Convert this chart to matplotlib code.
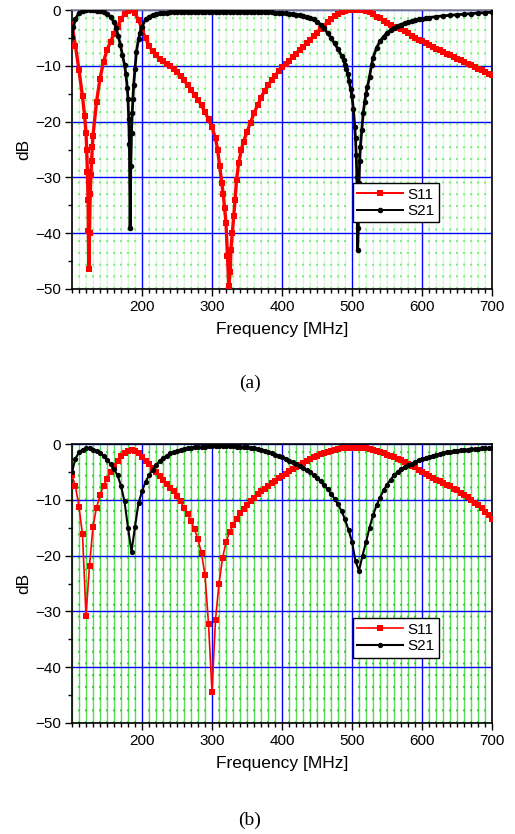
import matplotlib
matplotlib.use("Agg")
import matplotlib.pyplot as plt
from matplotlib.ticker import MultipleLocator, FixedLocator

plt.rcParams['font.family'] = ['Liberation Sans', 'DejaVu Sans']

# ---------------- panel (a) data ----------------
freq_a_s11 = [100, 105, 110, 115, 118, 120, 121, 122, 123, 123.5, 124, 125, 126, 127, 128, 129, 130,
              135, 140, 145, 150, 155, 160, 165, 170, 175, 180, 185, 190, 195,
              200, 205, 210, 215, 220, 225, 230, 235, 240, 245, 250, 255, 260, 265, 270, 275,
              280, 285, 290, 295, 300, 305, 308, 311, 314, 316, 318, 320, 322, 324, 326, 327,
              329, 331, 333, 335, 338, 342, 345, 350, 355, 360, 365, 370, 375, 380, 385, 390, 395,
              400, 405, 410, 415, 420, 425, 430, 435, 440, 445, 450, 455, 460, 465, 470, 475,
              480, 485, 490, 495, 500, 505, 510, 515, 520, 525, 530, 535, 540, 545, 550, 555,
              560, 565, 570, 575, 580, 585, 590, 595, 600, 605, 610, 615, 620, 625, 630, 635,
              640, 645, 650, 655, 660, 665, 670, 675, 680, 685, 690, 695, 700]
s11_a = [-2.7, -6.5, -10.8, -15.5, -19.0, -22.0, -25.0, -29.0, -34.0, -39.6, -46.5, -40.0, -33.0, -29.5, -27.0, -24.5, -22.5,
         -16.5, -12.3, -9.3, -7.2, -5.7, -4.3, -3.0, -1.7, -0.7, -0.15, 0.0, -0.6, -1.8,
         -3.4, -5.1, -6.4, -7.4, -8.1, -8.7, -9.2, -9.7, -10.1, -10.6, -11.2, -11.9, -12.6, -13.4, -14.3, -15.2,
         -16.1, -17.1, -18.3, -19.6, -21.0, -23.0, -25.0, -28.0, -31.0, -33.0, -35.5, -38.2, -44.0, -49.5, -47.0, -43.0,
         -40.0, -37.0, -34.0, -30.5, -27.5, -25.0, -23.6, -21.8, -20.2, -18.5, -17.1, -15.7, -14.5, -13.5, -12.6, -11.8, -11.0,
         -10.3, -9.7, -9.1, -8.4, -7.8, -7.2, -6.6, -6.0, -5.3, -4.7, -4.1, -3.4, -2.8, -2.2, -1.6, -1.1,
         -0.7, -0.4, -0.2, -0.05, 0.0, 0.0, 0.0, 0.0, -0.1, -0.4, -0.8, -1.2, -1.5, -1.9, -2.3, -2.7,
         -3.0, -3.2, -3.4, -3.8, -4.2, -4.6, -5.0, -5.3, -5.6, -5.9, -6.3, -6.6, -6.9, -7.2, -7.5, -7.8,
         -8.1, -8.4, -8.7, -9.0, -9.3, -9.6, -9.9, -10.2, -10.5, -10.8, -11.1, -11.4, -11.7]

freq_a_s21 = [100, 102, 105, 110, 115, 120, 125, 130, 135, 140, 145, 150, 155, 160, 163, 166, 169, 172,
              175, 177, 179, 180, 181, 182, 183, 184, 185, 186, 187, 188, 190, 192, 195, 197,
              200, 205, 210, 215, 220, 225, 230, 235, 240, 245, 250, 255, 260, 265, 270, 275,
              280, 285, 290, 295, 300, 305, 310, 315, 320, 325, 330, 335, 340, 345, 350, 355,
              360, 365, 370, 375, 380, 385, 390, 395, 400, 405, 410, 415, 420, 425, 430, 435,
              440, 445, 450, 455, 460, 465, 470, 475, 480, 485, 488, 490, 492, 494, 496, 498,
              500, 502, 504, 505, 506, 507, 508, 509, 510, 511, 512, 514, 516, 518, 520, 522,
              525, 528, 530, 535, 540, 545, 550, 555, 560, 565, 570, 575, 580, 585, 590, 595,
              600, 605, 610, 620, 630, 640, 650, 660, 670, 680, 690, 700]
s21_a = [-4.8, -3.0, -1.6, -0.5, -0.15, -0.05, 0.0, -0.05, -0.1, -0.2, -0.4, -0.7, -1.2, -2.2, -3.2, -4.6, -6.2, -8.0,
         -9.8, -11.5, -14.0, -16.0, -19.5, -24.0, -39.0, -28.0, -22.0, -18.5, -16.0, -13.5, -10.5, -7.5, -5.2, -4.2,
         -3.0, -1.7, -1.2, -0.9, -0.7, -0.55, -0.5, -0.45, -0.4, -0.38, -0.35, -0.33, -0.32, -0.3, -0.3, -0.3,
         -0.3, -0.3, -0.3, -0.3, -0.3, -0.3, -0.3, -0.3, -0.3, -0.3, -0.3, -0.3, -0.3, -0.3, -0.3, -0.3,
         -0.32, -0.33, -0.35, -0.37, -0.4, -0.42, -0.45, -0.5, -0.55, -0.6, -0.65, -0.75, -0.85, -0.95, -1.05, -1.2,
         -1.4, -1.7, -2.1, -2.6, -3.3, -4.1, -5.0, -6.0, -7.0, -8.2, -9.0, -9.8, -10.5, -11.5, -12.8, -14.2,
         -15.5, -17.8, -21.0, -23.0, -26.0, -30.0, -43.0, -39.0, -31.0, -27.0, -24.5, -21.5, -18.5, -16.5, -15.0, -13.8,
         -12.0, -9.8, -8.6, -6.8, -5.6, -4.8, -4.1, -3.6, -3.2, -2.9, -2.6, -2.35, -2.15, -2.0, -1.85, -1.7,
         -1.55, -1.45, -1.35, -1.2, -1.05, -0.95, -0.85, -0.75, -0.65, -0.55, -0.48, -0.4]

# ---------------- panel (b) data ----------------
freq_b = list(range(100, 705, 5))
s11_b = [-5.6, -7.6, -11.3, -16.2, -30.8, -21.8, -14.8, -11.4, -9.2, -7.5,
         -6.2, -5.0, -4.0, -3.0, -2.2, -1.6, -1.2, -1.1, -1.3, -1.7,
         -2.4, -3.0, -3.6, -4.3, -5.0, -5.7, -6.4, -7.1, -7.8, -8.5,
         -9.4, -10.3, -11.4, -12.5, -13.8, -15.3, -17.1, -19.6, -23.5, -32.2,
         -44.4, -31.5, -25.0, -20.5, -17.6, -15.8, -14.5, -13.4, -12.4, -11.6,
         -10.9, -10.2, -9.6, -9.0, -8.5, -8.0, -7.5, -7.0, -6.6, -6.1,
         -5.7, -5.3, -4.9, -4.5, -4.1, -3.7, -3.4, -3.0, -2.7, -2.4,
         -2.1, -1.8, -1.6, -1.4, -1.2, -1.0, -0.9, -0.8, -0.75, -0.7,
         -0.7, -0.7, -0.7, -0.7, -0.8, -0.9, -1.0, -1.2, -1.4, -1.6,
         -1.9, -2.1, -2.4, -2.6, -2.9, -3.2, -3.5, -3.9, -4.2, -4.6,
         -5.0, -5.3, -5.7, -6.1, -6.4, -6.7, -7.0, -7.3, -7.6, -8.0,
         -8.3, -8.7, -9.1, -9.5, -10.0, -10.5, -11.0, -11.5, -12.2, -12.8,
         -13.4]
s21_b = [-5.0, -2.6, -1.5, -1.0, -0.8, -0.8, -1.0, -1.3, -1.6, -2.1,
         -2.8, -3.6, -4.5, -5.6, -7.5, -10.3, -15.0, -19.3, -14.8, -10.6,
         -8.5, -6.8, -5.6, -4.6, -3.8, -3.1, -2.5, -2.1, -1.7, -1.4,
         -1.2, -1.0, -0.9, -0.8, -0.7, -0.6, -0.55, -0.5, -0.45, -0.4,
         -0.4, -0.4, -0.4, -0.4, -0.4, -0.4, -0.4, -0.45, -0.5, -0.55,
         -0.6, -0.7, -0.8, -0.9, -1.0, -1.2, -1.4, -1.6, -1.9, -2.1,
         -2.4, -2.7, -3.0, -3.3, -3.6, -3.9, -4.3, -4.7, -5.1, -5.6,
         -6.1, -6.7, -7.4, -8.1, -8.9, -9.8, -10.8, -12.0, -13.5, -15.4,
         -17.5, -21.0, -22.7, -20.0, -17.6, -15.0, -12.8, -11.0, -9.6, -8.3,
         -7.3, -6.4, -5.6, -5.0, -4.5, -4.1, -3.8, -3.5, -3.2, -2.9,
         -2.7, -2.5, -2.3, -2.1, -1.9, -1.8, -1.6, -1.5, -1.4, -1.3,
         -1.2, -1.1, -1.05, -1.0, -0.95, -0.9, -0.85, -0.8, -0.78, -0.75,
         -0.7]

x_major = [200, 300, 400, 500, 600, 700]
y_major = [-50, -40, -30, -20, -10, 0]
series_labels = ['S11', 'S21']
panel_labels = ['(a)', '(b)']

assert len(freq_a_s11) == len(s11_a)
assert len(freq_a_s21) == len(s21_a)
assert len(freq_b) == len(s11_b) == len(s21_b)

W, H = 515, 834
fig = plt.figure(figsize=(W / 100, H / 100), dpi=100)

def px_axes(left, top, right, bottom):
    return fig.add_axes([left / W, 1 - bottom / H, (right - left) / W, (bottom - top) / H])

ax_a = px_axes(72, 10, 492, 289)
ax_b = px_axes(72, 444, 492, 723)


def style(ax, minor_color, dot_color, top_color):
    ax.set_xlim(100, 700)
    ax.set_ylim(-50, 0)
    ax.xaxis.set_major_locator(FixedLocator(x_major))
    ax.xaxis.set_minor_locator(MultipleLocator(10))
    ax.yaxis.set_major_locator(FixedLocator(y_major))
    ax.yaxis.set_minor_locator(MultipleLocator(5))
    ax.tick_params(which='major', direction='out', length=5, width=1, labelsize=11, pad=3,
                   top=False, right=False)
    ax.tick_params(which='minor', direction='out', length=3, width=1, top=False, right=False)
    ax.set_axisbelow(True)
    ax.grid(which='major', color='#0000ff', linewidth=1.0)
    ax.grid(which='minor', axis='x', color=minor_color, linewidth=1.0)
    locs = [v for v in ax.xaxis.get_minorticklocs() if v not in x_major and 100 < v < 700]
    ax.vlines(locs, -50, 0, colors=dot_color, linestyles=(0, (1, 5.5)), linewidth=1.3, zorder=0.8)
    for s in ax.spines.values():
        s.set_linewidth(1.2)
        s.set_color('black')
    ax.spines['top'].set_color(top_color)
    ax.set_xlabel('Frequency [MHz]', fontsize=12.5, labelpad=6)
    ax.set_ylabel('dB', fontsize=12.5, labelpad=3)


style(ax_a, '#d8f8d8', '#66ee66', '#888888')
style(ax_b, '#55e055', '#22cc22', 'black')

l1, = ax_a.plot(freq_a_s11, s11_a, color='red', marker='s', markersize=4.2, linewidth=2.4,
                markeredgewidth=0, label=series_labels[0], zorder=3)
l2, = ax_a.plot(freq_a_s21, s21_a, color='black', marker='o', markersize=4.0, linewidth=2.0,
                markeredgewidth=0, label=series_labels[1], zorder=4)
leg = ax_a.legend(handles=[l1, l2], loc='upper left', bbox_to_anchor=(0.668, 0.38),
                  fancybox=False, edgecolor='black', framealpha=1, fontsize=11,
                  handlelength=3.0, handletextpad=0.3, borderpad=0.3, labelspacing=0.15,
                  borderaxespad=0, numpoints=1)
leg.get_frame().set_linewidth(1.0)
for h in leg.legend_handles:
    h.set_linewidth(1.4)
    h.set_markersize(4.0)

m1, = ax_b.plot(freq_b, s11_b, color='red', marker='s', markersize=3.8, linewidth=1.2,
                markeredgewidth=0, label=series_labels[0], zorder=3)
m2, = ax_b.plot(freq_b, s21_b, color='black', marker='o', markersize=3.8, linewidth=1.5,
                markeredgewidth=0, label=series_labels[1], zorder=4)
leg = ax_b.legend(handles=[m1, m2], loc='upper left', bbox_to_anchor=(0.668, 0.376),
                  fancybox=False, edgecolor='black', framealpha=1, fontsize=11,
                  handlelength=3.0, handletextpad=0.3, borderpad=0.3, labelspacing=0.15,
                  borderaxespad=0, numpoints=1)
leg.get_frame().set_linewidth(1.0)

fig.text(250 / W, 1 - 383 / H, panel_labels[0], ha='center', va='center', fontsize=14,
         family=['Liberation Serif', 'DejaVu Serif'])
fig.text(250 / W, 1 - 820 / H, panel_labels[1], ha='center', va='center', fontsize=14,
         family=['Liberation Serif', 'DejaVu Serif'])

fig.savefig('out.png', dpi=100)
